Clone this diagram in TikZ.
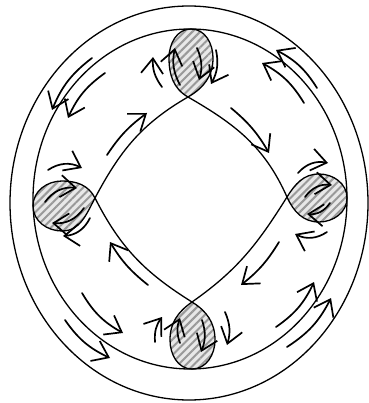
\documentclass[tikz,border=0pt]{standalone}
\usepackage{tikz}
\usetikzlibrary{arrows.meta,patterns.meta}
\tikzset{
  rim/.style={line width=1.3pt},
  loopfill/.style={
    preaction={fill=gray!18},
    pattern={Lines[angle=45,distance=5.5pt,line width=2pt]}, pattern color=gray!80
  },
  arr/.style={-{Straight Barb[length=15pt,width=22pt]}, line width=1.7pt},
  every picture/.append style={line join=round, line cap=round}
}

\begin{document}
\begin{tikzpicture}[x=1pt,y=-1pt]
  \useasboundingbox (0,0) rectangle (368,403);
  % crossings of the inner curve
  \coordinate (L) at (95,198);
  \coordinate (T) at (188,97);
  \coordinate (R) at (287,197);
  \coordinate (B) at (192,302);
  % loop points
  \coordinate (tr) at (213,58);  \coordinate (tt) at (191,29);  \coordinate (tl) at (169,58);
  \coordinate (rb) at (319,222); \coordinate (rr) at (347,198); \coordinate (rt) at (319,174);
  \coordinate (bl) at (170,340); \coordinate (bb) at (192,369); \coordinate (br) at (215,340);
  \coordinate (lt) at (62,181);  \coordinate (ll) at (33,206);  \coordinate (lb) at (62,231);

  % hatched loops
  \path[loopfill] (T) to[out=30,in=270] (tr) to[out=90,in=0] (tt)
    to[out=180,in=90] (tl) to[out=270,in=150] (T) -- cycle;
  \path[loopfill] (R) to[out=294,in=180] (rb) to[out=0,in=270] (rr)
    to[out=90,in=0] (rt) to[out=180,in=58] (R) -- cycle;
  \path[loopfill] (B) to[out=215,in=90] (bl) to[out=270,in=180] (bb)
    to[out=0,in=270] (br) to[out=90,in=328] (B) -- cycle;
  \path[loopfill] (L) to[out=117,in=0] (lt) to[out=180,in=90] (ll)
    to[out=270,in=180] (lb) to[out=0,in=242] (L) -- cycle;

  % the two rings
  \draw[rim] (189,203) ellipse [x radius=179, y radius=197];
  \draw[rim] (190,199) ellipse [x radius=157, y radius=170];

  % inner curve with its four loops
  \draw[rim] (L) to[out=62,in=210] (T)
    to[out=30,in=270] (tr) to[out=90,in=0] (tt) to[out=180,in=90] (tl) to[out=270,in=150] (T)
    to[out=330,in=114] (R)
    to[out=294,in=180] (rb) to[out=0,in=270] (rr) to[out=90,in=0] (rt) to[out=180,in=58] (R)
    to[out=238,in=35] (B)
    to[out=215,in=90] (bl) to[out=270,in=180] (bb) to[out=0,in=270] (br) to[out=90,in=328] (B)
    to[out=148,in=297] (L)
    to[out=117,in=0] (lt) to[out=180,in=90] (ll) to[out=270,in=180] (lb) to[out=0,in=242] (L);

  % flow along the rings
  \draw[arr] (92,58) to[bend right=15] (52,110);
  \draw[arr] (105,73) to[bend right=15] (68,118);
  \draw[arr] (317,88) to[bend right=15] (276,50);
  \draw[arr] (304,103) to[bend right=15] (262,63);
  \draw[arr] (276,327) to[bend right=15] (314,282);
  \draw[arr] (287,347) to[bend right=15] (331,298);
  \draw[arr] (82,293) to[bend right=15] (123,333);
  \draw[arr] (65,320) to[bend right=15] (110,358);

  % flow along the inner curve
  \draw[arr] (107,155) to[bend left=10] (147,113);
  \draw[arr] (231,108) to[bend left=10] (269,153);
  \draw[arr] (279,242) to[bend left=10] (241,285);
  \draw[arr] (148,285) to[bend left=10] (110,242);

  % circulation round the loops
  \draw[arr] (162,87) to[bend left=20] (153,57);
  \draw[arr] (180,85) to[bend left=20] (175,48);
  \draw[arr] (197,48) to[bend left=20] (199,80);
  \draw[arr] (216,50) to[bend left=20] (211,84);

  \draw[arr] (155,342) to[bend left=20] (162,317);
  \draw[arr] (180,343) to[bend left=20] (180,318);
  \draw[arr] (202,320) to[bend left=20] (201,352);
  \draw[arr] (225,312) to[bend left=20] (227,345);

  \draw[arr] (48,170) to[bend left=30] (82,168);
  \draw[arr] (45,202) to[bend left=30] (77,188);
  \draw[arr] (84,208) to[bend left=30] (52,223);
  \draw[arr] (90,218) to[bend left=30] (63,236);

  \draw[arr] (298,173) to[bend left=30] (328,163);
  \draw[arr] (305,197) to[bend left=30] (332,185);
  \draw[arr] (330,203) to[bend left=30] (307,214);
  \draw[arr] (327,232) to[bend left=30] (295,234);
\end{tikzpicture}
\end{document}
